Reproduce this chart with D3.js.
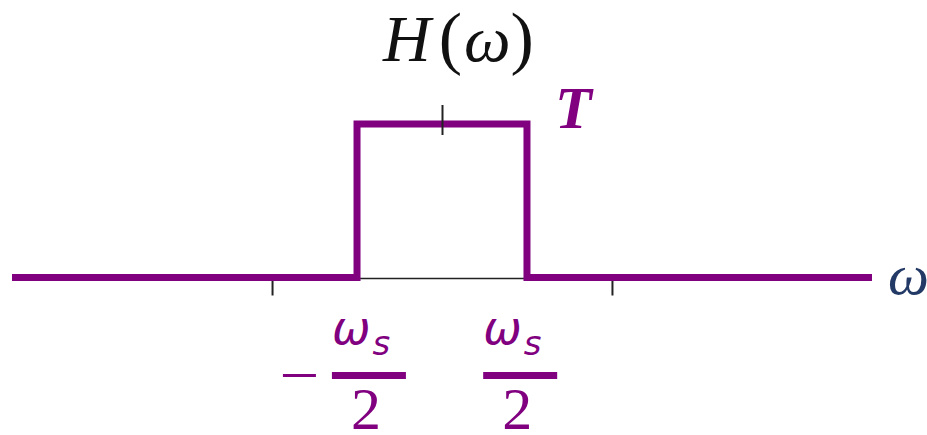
<!DOCTYPE html>
<html>
<head>
<meta charset="utf-8">
<script src="https://cdn.jsdelivr.net/npm/d3@7"></script>
<style>
  html, body { margin: 0; padding: 0; background: #fff; }
  svg { display: block; }
</style>
</head>
<body>
<svg id="chart" width="927" height="435"></svg>
<script>
// Ideal low-pass (reconstruction) filter H(ω): height T on |ω| < ω_s/2
// ω is measured in units of ω_s.
const omegaRange = [-2.53, 2.53];
const cutoffs = [-0.5, 0.5];          // ±ω_s/2
const passGain = 1;                   // T
const sideTicks = [-1, 1];            // ±ω_s
const centerTick = [0];
const cutoffLabels = [
  { at: -0.43, sign: "−" },
  { at: 0.46, sign: "" }
];

const purple = "#800080";
const svg = d3.select("#chart");

const x = d3.scaleLinear().domain(omegaRange).range([12, 872]);
const y = d3.scaleLinear().domain([0, passGain]).range([277.5, 124]);

// thin ω axis beneath the pulse
svg.append("line")
  .attr("x1", x(cutoffs[0])).attr("x2", x(cutoffs[1]))
  .attr("y1", y(0) + 1).attr("y2", y(0) + 1)
  .attr("stroke", "#222").attr("stroke-width", 1.5);

// ticks at ±ω_s below the axis
const bottomAxis = d3.axisBottom(x).tickValues(sideTicks).tickSize(15).tickFormat("");
const gb = svg.append("g").attr("transform", `translate(0,${y(0) + 3})`).call(bottomAxis);
gb.select(".domain").remove();
gb.selectAll(".tick line").attr("stroke", "#222").attr("stroke-width", 2);

// step shape of the filter
const pts = [
  [omegaRange[0], 0],
  [cutoffs[0], 0], [cutoffs[0], passGain],
  [cutoffs[1], passGain], [cutoffs[1], 0],
  [omegaRange[1], 0]
];
svg.append("path")
  .attr("d", d3.line().x(d => x(d[0])).y(d => y(d[1]))(pts))
  .attr("fill", "none")
  .attr("stroke", purple)
  .attr("stroke-width", 7)
  .attr("stroke-linejoin", "miter");

// vertical tick at ω = 0 crossing the top of the pulse
const topAxis = d3.axisTop(x).tickValues(centerTick).tickSize(30).tickFormat("");
const gt = svg.append("g").attr("transform", `translate(0,135)`).call(topAxis);
gt.select(".domain").remove();
gt.selectAll(".tick line").attr("stroke", "#222").attr("stroke-width", 2);

// title
const title = svg.append("text")
  .attr("x", 383).attr("y", 61)
  .attr("font-family", "Liberation Serif, DejaVu Serif, serif")
  .attr("font-size", 66)
  .attr("fill", "#111");
title.append("tspan").attr("font-style", "italic").text("H");
title.append("tspan").attr("dx", 8).attr("font-size", 70).text("(");
title.append("tspan").attr("dx", 2).attr("font-style", "italic").text("ω");
title.append("tspan").attr("font-size", 70).text(")");

// gain label
svg.append("text")
  .attr("x", x(cutoffs[1]) + 28).attr("y", 128)
  .attr("font-family", "Liberation Serif, DejaVu Serif, serif")
  .attr("font-style", "italic").attr("font-weight", "bold")
  .attr("font-size", 60)
  .attr("fill", purple)
  .text("T");

// axis name
svg.append("text")
  .attr("x", 888).attr("y", 294)
  .attr("font-family", "Liberation Serif, DejaVu Serif, serif")
  .attr("font-style", "italic")
  .attr("font-size", 58)
  .attr("fill", "#243a66")
  .text("ω");

// ±ω_s/2 fraction labels
cutoffLabels.forEach(d => {
  const cx = x(d.at);
  const g = svg.append("g");
  g.append("rect")
    .attr("x", cx - 37).attr("y", 372)
    .attr("width", 74).attr("height", 7)
    .attr("fill", purple);
  const num = g.append("text")
    .attr("x", cx - 37).attr("y", 344)
    .attr("font-family", "DejaVu Sans, sans-serif")
    .attr("font-style", "italic")
    .attr("font-size", 46)
    .attr("fill", purple);
  num.append("tspan").text("ω");
  num.append("tspan").attr("dx", 2).attr("dy", 11).attr("font-size", 34).text("s");
  g.append("text")
    .attr("x", cx - 3).attr("y", 429)
    .attr("text-anchor", "middle")
    .attr("font-family", "Liberation Serif, DejaVu Serif, serif")
    .attr("font-size", 60)
    .attr("fill", purple)
    .text("2");
  if (d.sign) {
    g.append("rect")
      .attr("x", cx - 86).attr("y", 374)
      .attr("width", 33).attr("height", 3)
      .attr("fill", purple);
  }
});
</script>
</body>
</html>
